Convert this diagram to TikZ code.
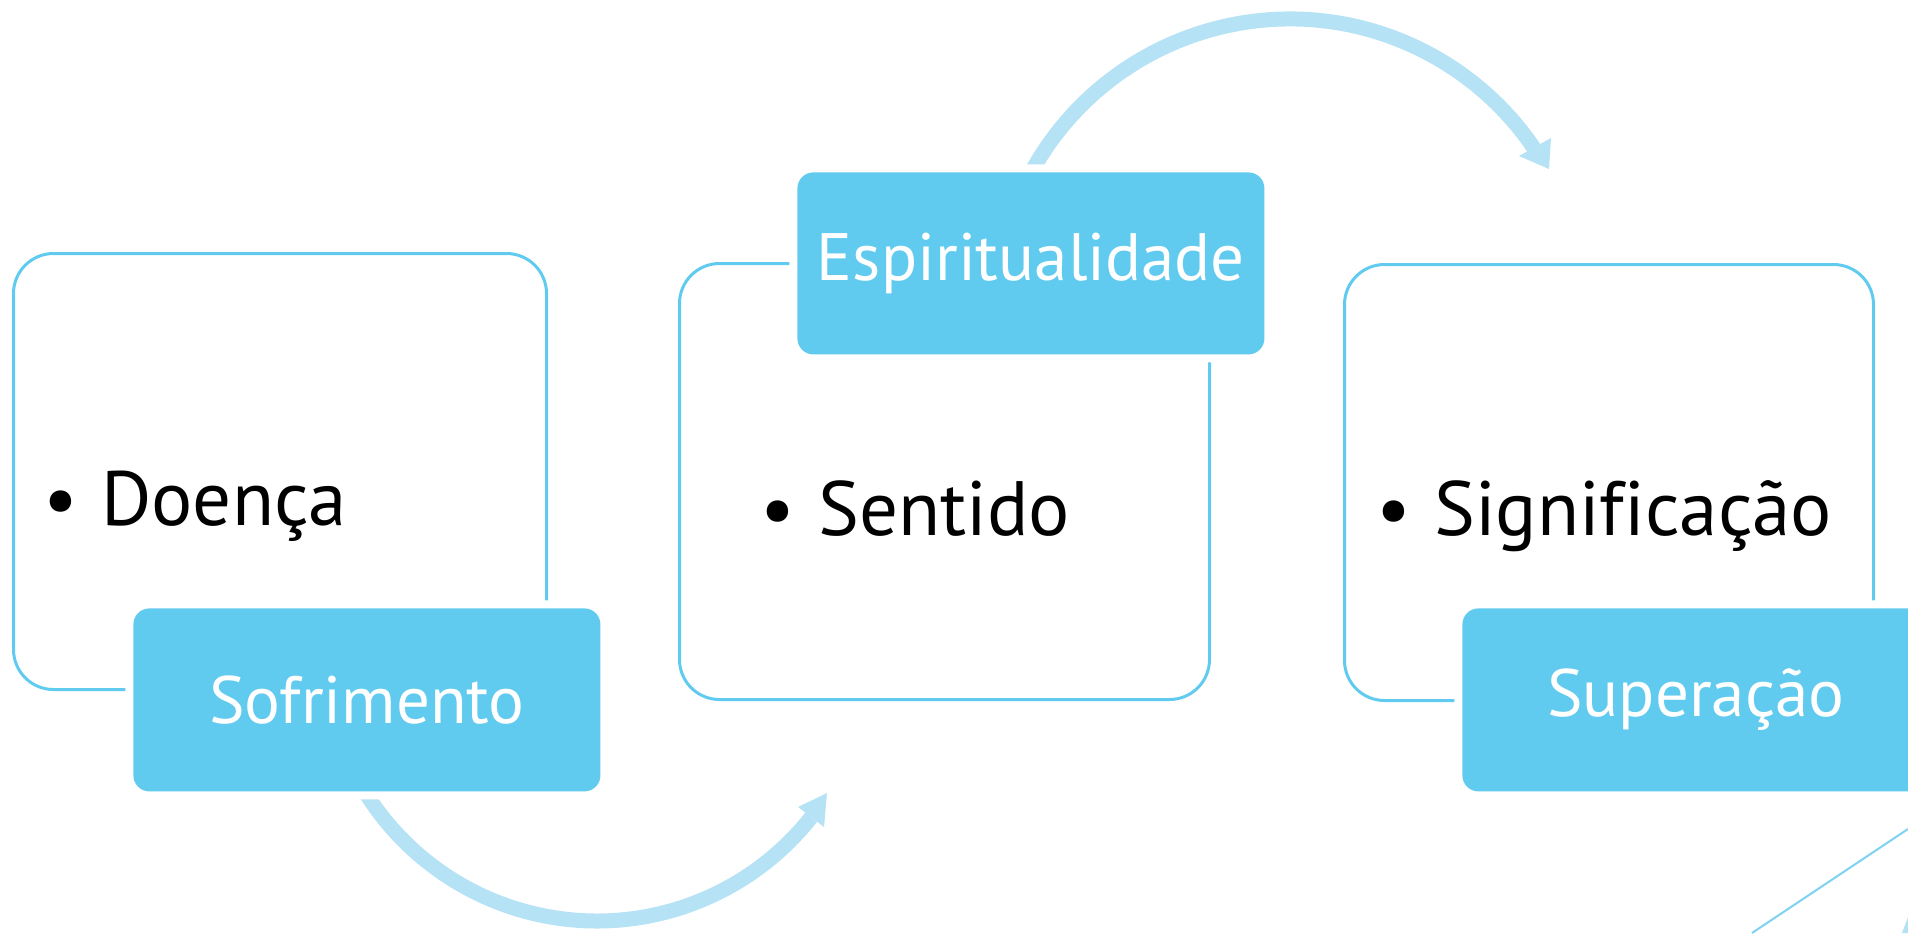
\documentclass[tikz,border=0pt]{standalone}
\usepackage{fontspec}
\setmainfont{PT Sans}[Ligatures=NoCommon]
\definecolor{boxblue}{HTML}{61CBEF}
\definecolor{arcblue}{HTML}{B5E2F4}
\definecolor{thinblue}{HTML}{7FD3F1}
\begin{document}
\begin{tikzpicture}[x=0.5pt,y=-0.5pt,
  outline/.style={draw=boxblue, line width=1.5pt, rounded corners=20pt, rectangle, inner sep=0pt, anchor=north west},
  tagbox/.style={fill=boxblue, preaction={draw=white, line width=8pt}, rounded corners=8pt, rectangle, inner sep=0pt, anchor=north west, minimum width=233.5pt, text=white, font=\fontsize{33.5}{38}\selectfont},
  item/.style={anchor=base west, inner sep=0pt, font=\fontsize{38.5}{44}\selectfont},
  arcline/.style={draw=arcblue, line width=7.5pt},
  arrowhead/.style={fill=arcblue}]
\useasboundingbox (0,0) rectangle (1908,933);
% outline boxes
\node[outline, minimum width=266.5pt, minimum height=218pt] (b1) at (12,252) {};
\node[outline, minimum width=265pt, minimum height=218pt] (b2) at (678,262) {};
\node[outline, minimum width=264.5pt, minimum height=218pt] (b3) at (1343,263) {};
% items
\node[item] (t1) at (43,525) {•\hspace{0.3em}Doença};
\node[item] (t2) at (760,535) {•\hspace{0.3em}Sentido};
\node[item] (t3) at (1376,535) {•\hspace{0.3em}Significação};
% top arc
\begin{scope}
\clip (0,0) rectangle (1908,166);
\draw[arcline] (1290,314) ++(-153:295) arc[start angle=-153, end angle=-34.2, radius=295];
\end{scope}
\fill[arrowhead] (1549,169) -- (1519,156) -- (1551,138) -- cycle;
% bottom arc
\begin{scope}
\clip (0,795) rectangle (1908,933);
\draw[arcline] (597,648) ++(151:273) arc[start angle=151, end angle=38.3, radius=273];
\end{scope}
\fill[arrowhead] (827,793) -- (798,807) -- (824,827) -- cycle;
% tag boxes
\node[tagbox, minimum height=91.5pt] (s1) at (133,608) {Sofrimento};
\node[tagbox, minimum height=91pt] (s2) at (797,172) {Espiritualidade};
\node[tagbox, minimum height=91.5pt] (s3) at (1462,608) {Superação};
% thin line and fragment
\coordinate (l1) at (1752,933);
\coordinate (l2) at (1908,829);
\draw[thinblue, line width=1pt] (l1) -- (l2);
\fill[arcblue] (1902,933) -- (1908,917) -- (1908,933) -- cycle;
\end{tikzpicture}
\end{document}
